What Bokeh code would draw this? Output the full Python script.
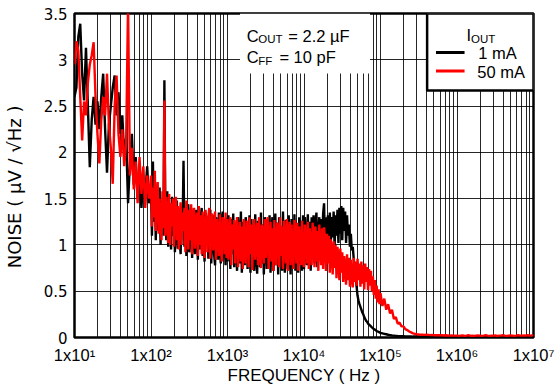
import numpy as np
from bokeh.plotting import figure
from bokeh.models import Range1d, FixedTicker, Label
from bokeh.embed import file_html
from bokeh.resources import INLINE

# ---------------- data ----------------
# measurement grid (log10 of frequency): three segments with their own step
seg_lo = (1.0, 2.0, 0.025)      # 10 Hz .. 100 Hz
seg_mid = (2.0, 5.0, 0.0125)    # 100 Hz .. 100 kHz (dense)
seg_hi = (5.0, 7.0001, 0.025)   # 100 kHz .. 10 MHz

# ---- I_OUT = 1 mA (uV/rtHz) ----
noise_1mA_lo = [2.60, 2.70, 3.25, 3.39, 2.85, 2.56, 3.13, 2.50, 1.84, 2.35,
                2.60, 2.30, 2.55, 2.25, 2.60, 2.85, 2.25, 1.78, 2.30, 2.50,
                2.70, 2.83, 2.40, 2.65, 2.20, 2.40, 1.95, 2.15, 1.45, 1.90,
                2.20, 1.65, 1.95, 1.50, 1.80, 1.40, 1.75, 1.55, 1.85, 1.45]
noise_1mA_mid = [
    # 100 Hz .. 1 kHz
    1.60, 1.10, 1.90, 1.25, 1.70, 1.05, 1.55, 1.35, 1.15, 1.62,
    1.00, 1.48, 1.20, 1.10, 2.78, 1.30, 1.05, 1.58, 0.98, 1.45,
    1.25, 0.95, 1.52, 1.10, 1.40, 0.92, 1.30, 1.48, 0.96, 1.35,
    1.05, 0.90, 1.42, 1.15, 1.91, 0.98, 1.38, 0.88, 1.30, 1.44,
    0.92, 1.20, 1.40, 0.86, 1.32, 1.05, 0.90, 1.38, 1.12, 0.84,
    1.36, 0.95, 1.28, 1.40, 0.88, 1.15, 0.82, 1.34, 1.00, 1.30,
    0.85, 1.22, 1.38, 0.80, 1.10, 1.32, 0.90, 0.78, 1.30, 1.18,
    0.84, 1.35, 0.95, 0.80, 1.28, 1.36, 0.86, 1.05, 0.78, 1.30,
    # 1 kHz .. 10 kHz
    0.82, 1.32, 1.05, 0.74, 1.28, 0.90, 1.34, 0.76, 1.20, 0.98,
    0.72, 1.30, 1.12, 0.80, 1.36, 0.70, 1.25, 0.95, 0.78, 1.30,
    1.22, 0.74, 1.05, 1.32, 0.70, 1.28, 0.86, 1.18, 0.72, 1.33,
    0.92, 0.69, 1.26, 1.10, 0.76, 1.35, 0.80, 1.22, 0.68, 1.30,
    1.00, 0.74, 1.28, 0.84, 1.32, 0.70, 1.15, 1.30, 0.72, 0.96,
    1.34, 0.78, 1.24, 0.68, 1.30, 0.88, 1.20, 0.72, 1.36, 0.82,
    0.70, 1.27, 1.05, 0.74, 1.32, 0.90, 0.68, 1.28, 1.15, 0.76,
    1.33, 0.72, 1.22, 0.95, 0.70, 1.30, 0.80, 1.26, 0.72, 1.32,
    # 10 kHz .. 100 kHz
    0.74, 1.30, 1.02, 0.78, 1.33, 0.86, 1.25, 0.72, 1.30, 0.95,
    1.32, 0.80, 1.22, 1.35, 0.76, 1.10, 1.30, 0.85, 1.28, 0.98,
    1.34, 1.45, 0.90, 1.30, 1.05, 1.32, 0.95, 1.35, 1.00, 1.30,
    1.08, 1.36, 0.98, 1.32, 1.10, 1.38, 1.02, 1.40, 1.12, 1.42,
    1.05, 1.40, 1.15, 1.36, 1.02, 1.32, 1.10, 1.22, 0.98, 1.12,
    0.94, 0.98, 0.85, 0.75, 0.65, 0.55, 0.45, 0.40, 0.36, 0.33,
    0.30, 0.27, 0.25, 0.22, 0.20, 0.18, 0.17, 0.15, 0.14, 0.13,
    0.12, 0.11, 0.10, 0.09, 0.085, 0.08, 0.07, 0.065, 0.06, 0.055]
noise_1mA_hi = [
    0.050, 0.045, 0.040, 0.035, 0.030, 0.026, 0.022, 0.020, 0.018, 0.016,
    0.015, 0.014, 0.013, 0.012, 0.012, 0.011, 0.011, 0.010, 0.010, 0.010,
    0.010, 0.010, 0.012, 0.010, 0.010, 0.010, 0.010, 0.012, 0.010, 0.010,
    0.010, 0.010, 0.010, 0.012, 0.010, 0.010, 0.010, 0.010, 0.012, 0.010,
    0.010, 0.010, 0.012, 0.010, 0.010, 0.010, 0.012, 0.010, 0.010, 0.010,
    0.010, 0.012, 0.010, 0.010, 0.010, 0.010, 0.012, 0.010, 0.010, 0.010,
    0.010, 0.010, 0.012, 0.010, 0.010, 0.010, 0.010, 0.012, 0.010, 0.010,
    0.010, 0.012, 0.010, 0.010, 0.010, 0.010, 0.012, 0.010, 0.010, 0.012, 0.012]

# ---- I_OUT = 50 mA (uV/rtHz) ----
noise_50mA_lo = [2.95, 3.20, 3.10, 2.60, 2.13, 2.55, 2.40, 2.75, 2.95, 3.05,
                 3.19, 2.60, 2.20, 1.88, 2.35, 2.60, 2.40, 2.85, 2.30, 2.05,
                 1.66, 2.50, 2.83, 2.20, 1.95, 2.25, 1.85, 2.10, 3.60, 1.75,
                 2.05, 1.60, 1.90, 1.45, 1.95, 1.55, 1.85, 1.40, 1.75, 1.50]
noise_50mA_mid = [
    # 100 Hz .. 1 kHz
    1.75, 1.20, 1.62, 1.30, 1.80, 1.15, 1.55, 1.68, 1.12, 1.50,
    1.25, 1.05, 1.58, 1.18, 2.56, 1.10, 1.52, 1.35, 1.02, 1.55,
    1.00, 1.45, 1.20, 1.50, 0.98, 1.38, 1.52, 1.05, 1.42, 0.95,
    1.30, 1.46, 1.00, 1.35, 1.15, 1.40, 0.92, 1.48, 1.25, 0.95,
    1.38, 1.05, 1.44, 0.90, 1.30, 1.40, 0.96, 1.22, 1.35, 0.88,
    1.42, 1.00, 1.32, 0.90, 1.36, 1.10, 0.86, 1.38, 1.25, 0.92,
    1.30, 1.40, 0.85, 1.20, 1.34, 0.94, 1.05, 1.36, 0.84, 1.28,
    1.15, 0.88, 1.33, 1.00, 0.82, 1.30, 1.22, 0.90, 1.35, 0.86,
    # 1 kHz .. 10 kHz
    1.28, 0.84, 1.10, 1.30, 0.78, 1.22, 0.95, 1.27, 0.80, 1.15,
    1.30, 0.76, 1.05, 1.25, 0.82, 1.20, 0.74, 1.28, 1.00, 0.80,
    1.26, 1.12, 0.76, 1.30, 0.90, 1.22, 0.73, 1.18, 1.28, 0.84,
    1.05, 1.24, 0.78, 1.30, 0.92, 0.75, 1.22, 1.10, 0.80, 1.28,
    0.86, 1.20, 1.30, 0.74, 1.08, 1.25, 0.82, 1.18, 0.72, 1.27,
    1.00, 0.78, 1.24, 1.15, 0.76, 1.30, 0.88, 1.20, 0.74, 1.26,
    1.05, 0.80, 1.28, 0.72, 1.16, 1.25, 0.78, 1.22, 0.95, 0.74,
    1.27, 1.10, 0.80, 1.24, 0.72, 1.20, 1.02, 0.78, 1.26, 0.82,
    # 10 kHz .. 100 kHz
    0.76, 1.22, 1.05, 0.80, 1.25, 0.74, 1.18, 0.95, 0.78, 1.24,
    1.10, 0.76, 1.20, 0.82, 1.15, 0.72, 1.22, 1.00, 0.78, 1.18,
    0.74, 1.19, 1.05, 0.72, 1.12, 0.80, 1.10, 0.70, 1.06, 0.92,
    0.68, 1.04, 0.75, 1.00, 0.64, 0.98, 0.85, 0.62, 0.96, 0.70,
    0.92, 0.60, 0.88, 0.75, 0.57, 0.90, 0.62, 0.86, 0.55, 0.84,
    0.66, 0.54, 0.86, 0.60, 0.82, 0.56, 0.85, 0.62, 0.80, 0.55,
    0.82, 0.58, 0.78, 0.52, 0.80, 0.60, 0.76, 0.51, 0.74, 0.56,
    0.72, 0.50, 0.66, 0.46, 0.62, 0.42, 0.56, 0.38, 0.52, 0.36]
noise_50mA_hi = [
    0.48, 0.34, 0.42, 0.30, 0.36, 0.26, 0.30, 0.20, 0.22, 0.15,
    0.16, 0.12, 0.12, 0.09, 0.08, 0.065, 0.055, 0.045, 0.040, 0.035,
    0.032, 0.030, 0.030, 0.028, 0.030, 0.028, 0.026, 0.028, 0.025, 0.026,
    0.025, 0.024, 0.025, 0.022, 0.024, 0.022, 0.020, 0.022, 0.020, 0.020,
    0.020, 0.018, 0.020, 0.022, 0.018, 0.020, 0.025, 0.018, 0.020, 0.018,
    0.020, 0.022, 0.020, 0.018, 0.020, 0.025, 0.020, 0.018, 0.020, 0.020,
    0.022, 0.018, 0.020, 0.020, 0.025, 0.020, 0.018, 0.020, 0.022, 0.020,
    0.018, 0.020, 0.025, 0.020, 0.020, 0.022, 0.020, 0.025, 0.020, 0.022, 0.025]

log_f = np.concatenate([np.arange(*seg_lo), np.arange(*seg_mid), np.arange(*seg_hi)])
freq_hz = 10 ** log_f
noise_1mA = noise_1mA_lo + noise_1mA_mid + noise_1mA_hi
noise_50mA = noise_50mA_lo + noise_50mA_mid + noise_50mA_hi
assert len(noise_1mA) == len(freq_hz) == len(noise_50mA), (len(noise_1mA), len(freq_hz), len(noise_50mA))

x_tick_values = [10, 100, 1000, 10000, 100000, 1000000, 10000000]
x_tick_labels = ["1x10¹", "1x10²", "1x10³", "1x10⁴", "1x10⁵", "1x10⁶", "1x10⁷"]
x_minor_values = [m * 10 ** e for e in range(1, 7) for m in range(2, 10)]
y_tick_values = [0, 0.5, 1, 1.5, 2, 2.5, 3, 3.5]
y_tick_labels = ["0", "0.5", "1", "1.5", "2", "2.5", "3", "3.5"]

series_labels = ["1 mA", "50 mA"]
series_colors = ["#000000", "#ff0000"]

# ---------------- layout helpers (reference pixel geometry) ----------------
FONT = "Liberation Sans"
FR_L, FR_T, FR_W, FR_H = 67, 13, 466, 324   # frame in page px
X_MIN_LOG, X_DECADES, Y_MAX = 1.0, 6.0, 3.5

def fx(px):
    return 10 ** (X_MIN_LOG + (px - FR_L) / FR_W * X_DECADES)

def fy(py):
    return (FR_T + FR_H - py) / FR_H * Y_MAX

p = figure(width=556, height=391, x_axis_type="log",
           x_range=Range1d(10, 1e7), y_range=Range1d(0, 3.5),
           output_backend="svg", toolbar_location=None,
           min_border_left=67, min_border_right=23, min_border_top=13, min_border_bottom=54)
p.background_fill_color = "white"
p.border_fill_color = "white"
p.outline_line_color = "black"
p.outline_line_width = 2.5

xt = FixedTicker(ticks=x_tick_values, minor_ticks=x_minor_values)
yt = FixedTicker(ticks=y_tick_values, minor_ticks=[])
p.xaxis.ticker = xt
p.xgrid.ticker = xt
p.yaxis.ticker = yt
p.ygrid.ticker = yt
p.xaxis.major_label_overrides = dict(zip(x_tick_values, x_tick_labels))
p.yaxis.major_label_overrides = dict(zip(y_tick_values, y_tick_labels))

for g in (p.xgrid, p.ygrid):
    g.grid_line_color = "black"
    g.grid_line_width = 1
    g.grid_line_alpha = 0.85
p.xgrid.minor_grid_line_color = "black"
p.xgrid.minor_grid_line_alpha = 0.85
p.xgrid.minor_grid_line_width = 1

for ax in (p.xaxis, p.yaxis):
    ax.axis_line_color = None
    ax.major_tick_in = 0
    ax.major_tick_out = 0
    ax.minor_tick_in = 0
    ax.minor_tick_out = 0
    ax.major_label_text_color = "black"
    ax.axis_label_text_font_style = "normal"
    ax.axis_label_text_color = "black"
p.xaxis.major_label_text_font = FONT
p.xaxis.major_label_text_font_size = "16.5px"
p.yaxis.major_label_text_font = "DejaVu Sans"
p.yaxis.major_label_text_font_size = "15px"
p.xaxis.axis_label_text_font = FONT
p.xaxis.axis_label_text_font_size = "17px"
p.yaxis.axis_label_text_font = "DejaVu Sans"
p.yaxis.axis_label_text_font_size = "18px"
p.xaxis.axis_label = "FREQUENCY ( Hz )"
# trailing no-break spaces shift the visible label down to match the reference
p.yaxis.axis_label = "NOISE ( µV / √Hz )\u00a0\u00a0\u00a0\u00a0"
p.yaxis.major_label_standoff = 7
p.yaxis.axis_label_standoff = 16
p.xaxis.major_label_standoff = 8
p.xaxis.axis_label_standoff = -1

# white box behind the capacitor annotation
p.quad(left=[fx(235)], right=[fx(367)], bottom=[fy(73)], top=[Y_MAX],
       fill_color="white", line_color=None)

# data
p.line(freq_hz, noise_1mA, line_color=series_colors[0], line_width=2.4)
p.line(freq_hz, noise_50mA, line_color=series_colors[1], line_width=2.4)

# legend box
p.quad(left=[fx(425)], right=[1e7], bottom=[fy(90)], top=[Y_MAX],
       fill_color="white", line_color="black", line_width=2.5)
p.segment(x0=[fx(434)], x1=[fx(463)], y0=[fy(52)], y1=[fy(52)],
          line_color=series_colors[0], line_width=3)
p.segment(x0=[fx(434)], x1=[fx(463)], y0=[fy(70.5)], y1=[fy(70.5)],
          line_color=series_colors[1], line_width=3)

def lab(px, py, text, size="16.5px"):
    # py is the vertical centre of the capital letters (page px)
    p.add_layout(Label(x=fx(px), y=fy(py), text=text, text_font=FONT,
                       text_font_size=size, text_color="black",
                       text_align="left", text_baseline="middle"))

lab(465, 34, "I")
lab(469.5, 38, "OUT", size="11.5px")
lab(477, 52.5, series_labels[0])
lab(476, 71, series_labels[1])

lab(242, 35, "C")
lab(253.5, 38.5, "OUT", size="11.5px")
lab(284, 35, "= 2.2 µF")
lab(242, 56.5, "C")
lab(253.5, 60, "FF", size="11.5px")
lab(275, 56.5, "= 10 pF")

open("out.html", "w").write(file_html(p, INLINE))
